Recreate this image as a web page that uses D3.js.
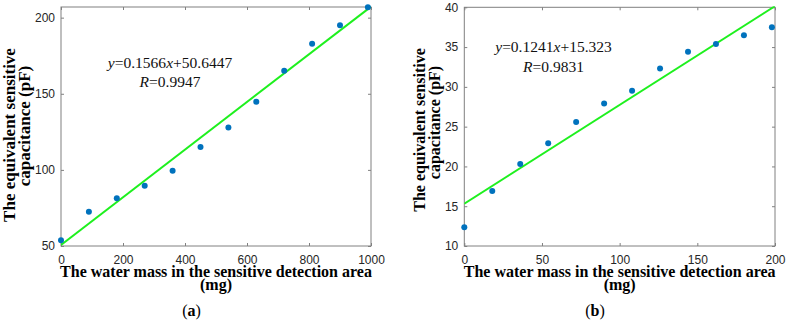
<!DOCTYPE html>
<html>
<head>
<meta charset="utf-8">
<script src="https://cdn.jsdelivr.net/npm/d3@7"></script>
<style>
  html, body { margin: 0; padding: 0; background: #fff; }
  svg { display: block; }
</style>
</head>
<body>
<svg id="chart" width="789" height="324"></svg>
<script>
// ---- Data ----
// Panel (a)
const massA = [0, 90, 180, 270, 360, 450, 540, 630, 720, 810, 900, 990];
const capA = [53.7, 72.5, 81.3, 89.5, 99.4, 115.1, 127.8, 144.8, 165.1, 182.8, 195.0, 206.8];
const fitA = { slope: 0.1566, intercept: 50.6447 };
const xTicksA = [0, 200, 400, 600, 800, 1000];
const yTicksA = [50, 100, 150, 200];
const eqA = ["0.1566", "+50.6447"];
const rA = "0.9947";

// Panel (b)
const massB = [0, 18, 36, 54, 72, 90, 108, 126, 144, 162, 180, 198];
const capB = [12.35, 16.9, 20.3, 22.9, 25.6, 27.9, 29.5, 32.3, 34.4, 35.4, 36.5, 37.5];
const fitB = { slope: 0.1241, intercept: 15.323 };
const xTicksB = [0, 50, 100, 150, 200];
const yTicksB = [10, 15, 20, 25, 30, 35, 40];
const eqB = ["0.1241", "+15.323"];
const rB = "0.9831";

const xLabel1 = "The water mass in the sensitive detection area";
const xLabel2 = "(mg)";
const yLabel1 = "The equivalent sensitive";
const yLabel2 = "capacitance (pF)";

const svg = d3.select("#chart");

const serif = "'Liberation Serif', 'Times New Roman', serif";
const sans = "'Liberation Sans', Arial, sans-serif";
const axisColor = "#808080";
const tickTextColor = "#262626";
const dotColor = "#0072BD";
const lineColor = "#1ef01e";

function panel(cfg) {
  const x = d3.scaleLinear().domain(cfg.xDomain).range([cfg.left, cfg.right]);
  const y = d3.scaleLinear().domain(cfg.yDomain).range([cfg.bottom, cfg.top]);
  const g = svg.append("g");

  const clipId = "clip" + cfg.id;
  svg.append("defs").append("clipPath").attr("id", clipId)
    .append("rect")
    .attr("x", cfg.left).attr("y", cfg.top - 1)
    .attr("width", cfg.right - cfg.left).attr("height", cfg.bottom - cfg.top + 1);

  // axes (ticks inward)
  const tickLen = 3;
  const xAxis = d3.axisBottom(x).tickValues(cfg.xTicks).tickSize(-tickLen).tickPadding(9.5).tickFormat(d3.format("d"));
  const yAxis = d3.axisLeft(y).tickValues(cfg.yTicks).tickSize(-tickLen).tickPadding(6).tickFormat(d3.format("d"));
  const xAxisTop = d3.axisTop(x).tickValues(cfg.xTicks).tickSize(-tickLen).tickFormat("");
  const yAxisRight = d3.axisRight(y).tickValues(cfg.yTicks).tickSize(-tickLen).tickFormat("");

  function style(sel) {
    sel.select(".domain").attr("stroke", axisColor).attr("stroke-width", 1);
    sel.selectAll(".tick line").attr("stroke", axisColor).attr("stroke-width", 1);
    sel.selectAll(".tick text").attr("fill", tickTextColor)
      .style("font-family", sans).style("font-size", "12px");
  }

  g.append("g").attr("transform", `translate(0,${cfg.bottom})`).call(xAxis).call(style)
    .selectAll(".tick text").attr("dy", "0.71em");
  g.append("g").attr("transform", `translate(${cfg.left},0)`).call(yAxis).call(style);
  g.append("g").attr("transform", `translate(0,${cfg.top})`).call(xAxisTop).call(style);
  g.append("g").attr("transform", `translate(${cfg.right},0)`).call(yAxisRight).call(style);
  g.selectAll(".domain").attr("d", null);
  g.append("rect")
    .attr("x", cfg.left).attr("y", cfg.top)
    .attr("width", cfg.right - cfg.left).attr("height", cfg.bottom - cfg.top)
    .attr("fill", "none").attr("stroke", axisColor).attr("stroke-width", 1);

  // fit line
  const fitData = cfg.xDomain.map(v => [v, cfg.fit.slope * v + cfg.fit.intercept]);
  g.append("path")
    .datum(fitData)
    .attr("clip-path", `url(#${clipId})`)
    .attr("fill", "none")
    .attr("stroke", lineColor)
    .attr("stroke-width", 2)
    .attr("d", d3.line().x(d => x(d[0])).y(d => y(d[1])));

  // points
  g.selectAll("circle.pt")
    .data(cfg.xs.map((v, i) => [v, cfg.ys[i]]))
    .join("circle")
    .attr("class", "pt")
    .attr("cx", d => x(d[0]))
    .attr("cy", d => y(d[1]))
    .attr("r", 3)
    .attr("fill", dotColor);

  // equation
  const eq = g.append("text")
    .attr("x", cfg.eqX).attr("y", cfg.eqY)
    .attr("text-anchor", "middle")
    .style("font-family", serif).style("font-size", cfg.eqSize + "px")
    .attr("fill", "#111");
  eq.append("tspan").style("font-style", "italic").text("y");
  eq.append("tspan").text("=" + cfg.eq[0]);
  eq.append("tspan").style("font-style", "italic").text("x");
  eq.append("tspan").text(cfg.eq[1]);

  const rt = g.append("text")
    .attr("x", cfg.eqX).attr("y", cfg.eqY + cfg.eqGap)
    .attr("text-anchor", "middle")
    .style("font-family", serif).style("font-size", cfg.eqSize + "px")
    .attr("fill", "#111");
  rt.append("tspan").style("font-style", "italic").text("R");
  rt.append("tspan").text("=" + cfg.r);

  // x label
  const xc = (cfg.left + cfg.right) / 2;
  g.append("text")
    .attr("x", xc).attr("y", 277)
    .attr("text-anchor", "middle")
    .style("font-family", serif).style("font-size", "16px").style("font-weight", "bold")
    .attr("fill", "#000").text(xLabel1);
  g.append("text")
    .attr("x", xc).attr("y", 290)
    .attr("text-anchor", "middle")
    .style("font-family", serif).style("font-size", "16px").style("font-weight", "bold")
    .attr("fill", "#000").text(xLabel2);

  // y label
  g.append("text")
    .attr("transform", `translate(${cfg.yl1x},${cfg.yl1c}) rotate(-90)`)
    .attr("text-anchor", "middle")
    .style("font-family", serif).style("font-size", cfg.ylSize + "px").style("font-weight", "bold")
    .attr("fill", "#000").text(yLabel1);
  g.append("text")
    .attr("transform", `translate(${cfg.yl2x},${cfg.yl2c}) rotate(-90)`)
    .attr("text-anchor", "middle")
    .style("font-family", serif).style("font-size", cfg.ylSize + "px").style("font-weight", "bold")
    .attr("fill", "#000").text(yLabel2);

  // caption
  const cap = g.append("text")
    .attr("x", cfg.capX).attr("y", 316)
    .attr("text-anchor", "middle")
    .style("font-family", serif).style("font-size", "16px")
    .attr("fill", "#000");
  cap.append("tspan").text("(");
  cap.append("tspan").style("font-weight", "bold").text(cfg.cap);
  cap.append("tspan").text(")");
}

panel({
  id: "a",
  left: 61, right: 371, top: 7, bottom: 246,
  xDomain: [0, 1000], yDomain: [50, 207],
  xTicks: xTicksA, yTicks: yTicksA,
  xs: massA, ys: capA, fit: fitA,
  eq: eqA, r: rA, eqX: 170, eqY: 68, eqGap: 19, eqSize: 15.5,
  yl1x: 15, yl1c: 135, yl2x: 30, yl2c: 126, ylSize: 17,
  capX: 191.5, cap: "a"
});

panel({
  id: "b",
  left: 464.3, right: 775, top: 7.3, bottom: 246,
  xDomain: [0, 200], yDomain: [10, 40],
  xTicks: xTicksB, yTicks: yTicksB,
  xs: massB, ys: capB, fit: fitB,
  eq: eqB, r: rB, eqX: 553.5, eqY: 52, eqGap: 20, eqSize: 15.5,
  yl1x: 425, yl1c: 130, yl2x: 440, yl2c: 122.5, ylSize: 16,
  capX: 595, cap: "b"
});
</script>
</body>
</html>
